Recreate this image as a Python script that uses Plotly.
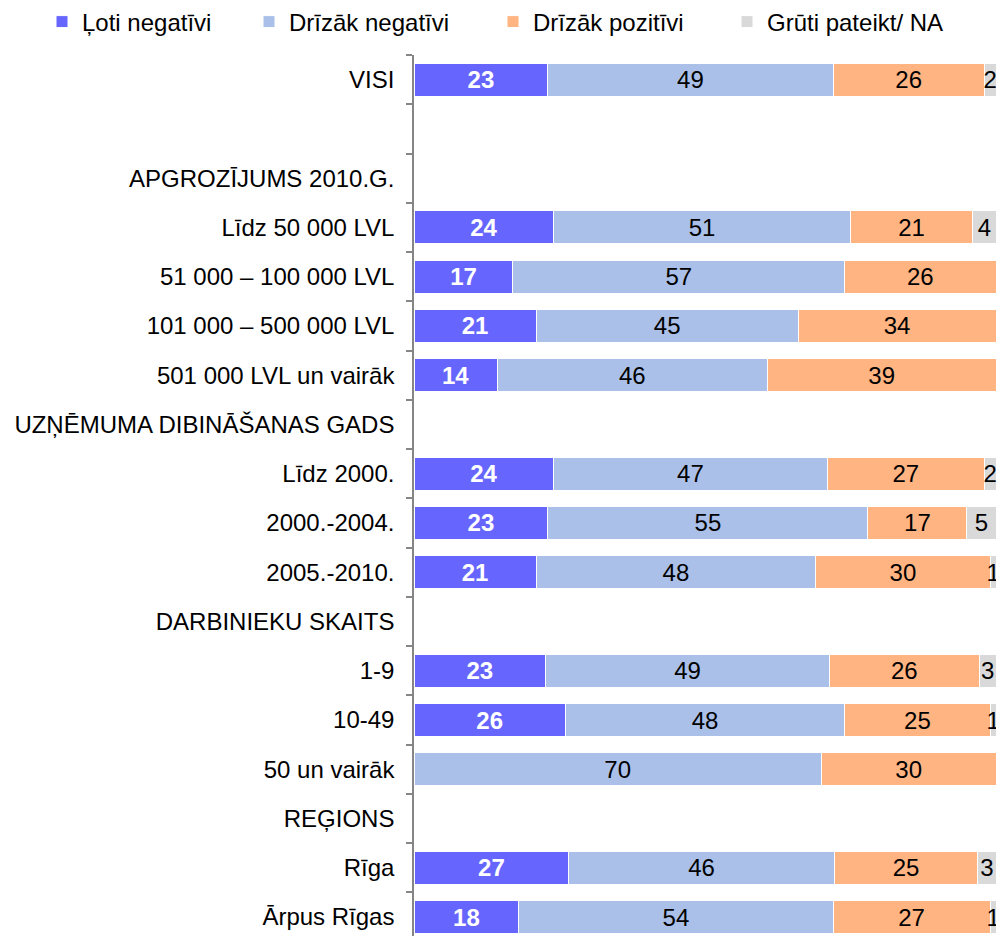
import plotly.graph_objects as go

categories = [
    "VISI",
    " ",
    "APGROZĪJUMS 2010.G.",
    "Līdz 50 000 LVL",
    "51 000 – 100 000 LVL",
    "101 000 – 500 000 LVL",
    "501 000 LVL un vairāk",
    "UZŅĒMUMA DIBINĀŠANAS GADS",
    "Līdz 2000.",
    "2000.-2004.",
    "2005.-2010.",
    "DARBINIEKU SKAITS",
    "1-9",
    "10-49",
    "50 un vairāk",
    "REĢIONS",
    "Rīga",
    "Ārpus Rīgas",
]

series_names = ["Ļoti negatīvi", "Drīzāk negatīvi", "Drīzāk pozitīvi", "Grūti pateikt/ NA"]

loti_negativi = [23, None, None, 24, 17, 21, 14.3, None, 24, 23, 21, None, 22.6, 26, None, None, 26.6, 18]
drizak_negativi = [49, None, None, 51, 57, 45, 46.4, None, 47, 55, 48, None, 48.8, 48, 70, None, 45.6, 54]
drizak_pozitivi = [26, None, None, 21, 26, 34, 39.3, None, 27, 17, 30, None, 25.7, 25, 30, None, 24.7, 27]
gruti_pateikt = [2, None, None, 4, None, None, None, None, 2, 5, 1, None, 2.9, 1, None, None, 3.1, 1]

series_values = [loti_negativi, drizak_negativi, drizak_pozitivi, gruti_pateikt]
colors = ["#6666FF", "#AAC0E8", "#FFB482", "#D9D9D9"]
FONT = "Liberation Sans, Arial, sans-serif"
FS = 24
text_styles = [
    dict(color="white", size=FS, family=FONT, weight="bold"),
    dict(color="black", size=FS, family=FONT),
    dict(color="black", size=FS, family=FONT),
    dict(color="black", size=FS, family=FONT),
]
legend_ids = ["legend", "legend2", "legend3", "legend4"]
legend_left_px = [42, 249, 493, 727]

W, H = 996, 936

fig = go.Figure()
for name, vals, col, tf, lid in zip(series_names, series_values, colors, text_styles, legend_ids):
    fig.add_trace(go.Bar(
        name=name,
        y=categories,
        x=vals,
        orientation="h",
        marker=dict(color=col, line=dict(color="white", width=1)),
        text=["" if v is None else f"{v:.0f}" for v in vals],
        textposition="inside",
        insidetextanchor="middle",
        textangle=0,
        constraintext="none",
        insidetextfont=tf,
        legend=lid,
        hoverinfo="x+y+name",
    ))

layout_legends = {}
for lid, lx in zip(legend_ids, legend_left_px):
    layout_legends[lid] = dict(
        xref="container", yref="container",
        x=lx / W, y=1 - 22 / H,
        xanchor="left", yanchor="middle",
        orientation="h",
        font=dict(size=FS, family=FONT, color="black"),
        bgcolor="rgba(0,0,0,0)",
        borderwidth=0,
    )

fig.update_layout(
    width=W, height=H,
    autosize=False,
    barmode="stack",
    bargap=0.33,
    margin=dict(l=414, r=0, t=55, b=0, pad=0),
    paper_bgcolor="white",
    plot_bgcolor="white",
    font=dict(family=FONT, size=FS, color="black"),
    showlegend=True,
    **layout_legends,
)

fig.update_xaxes(
    range=[0, 100],
    visible=False,
    showgrid=False,
    zeroline=False,
)

fig.update_yaxes(
    type="category",
    categoryorder="array",
    categoryarray=categories,
    range=[17.385, -0.5],
    showline=True,
    linecolor="#868686",
    linewidth=1.5,
    ticks="outside",
    tickson="boundaries",
    ticklen=6,
    tickcolor="#868686",
    tickwidth=1.5,
    ticklabelstandoff=13,
    tickfont=dict(size=FS, family=FONT, color="black"),
    showgrid=False,
    zeroline=False,
)

fig.write_html(
    "out.html",
    config={"displayModeBar": False},
    post_script="document.body.style.margin='0';document.body.style.overflow='hidden';",
)
